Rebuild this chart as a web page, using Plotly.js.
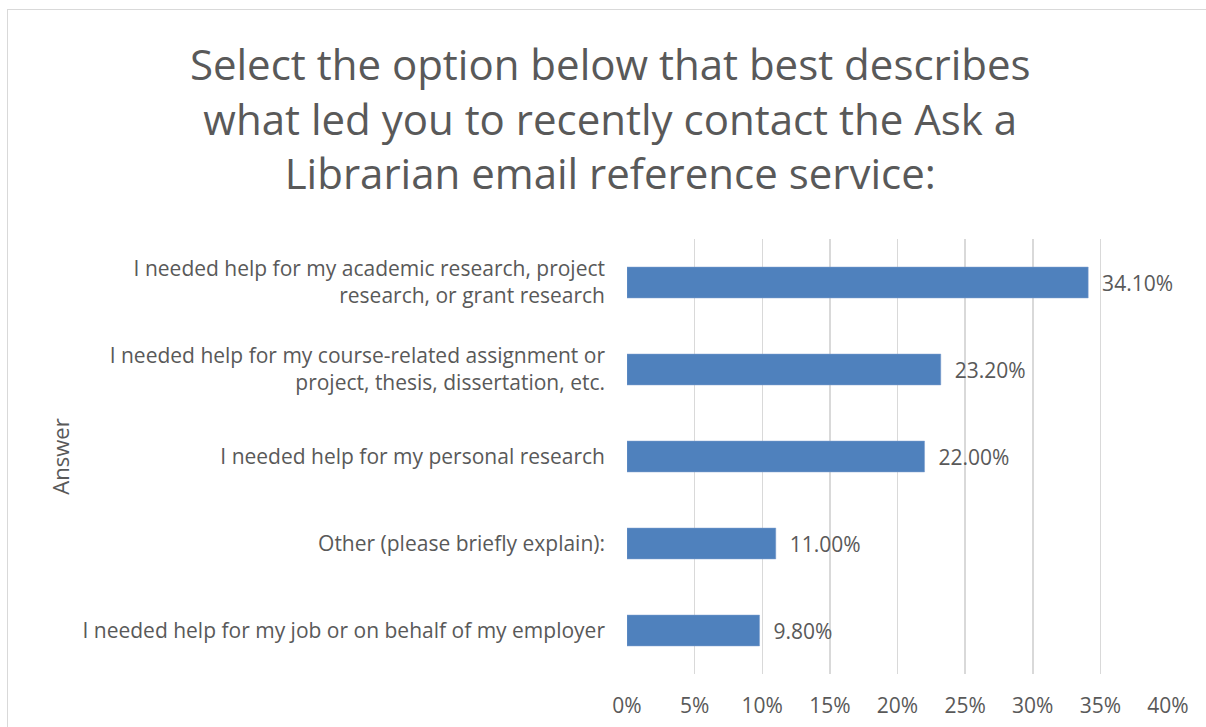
<!DOCTYPE html>
<html><head><meta charset="utf-8">
<script src="https://cdn.plot.ly/plotly-3.0.1.min.js"></script>
<style>
html,body{margin:0;padding:0;background:#fff;}
#wrap{position:relative;width:1206px;height:727px;overflow:hidden;}
#frame{position:absolute;left:7px;top:9px;width:1300px;height:800px;border:1.5px solid #d9d9d9;box-sizing:border-box;pointer-events:none;}
#chart{position:absolute;left:0;top:0;width:1206px;height:727px;}
</style></head>
<body><div id="wrap"><div id="chart"></div><div id="frame"></div></div>
<script>
const categories = [
  "I needed help for my academic research, project<br>research, or grant research",
  "I needed help for my course-related assignment or<br>project, thesis, dissertation, etc.",
  "I needed help for my personal research",
  "Other (please briefly explain):",
  "I needed help for my job or on behalf of my employer"
];
const values = [0.341, 0.232, 0.22, 0.11, 0.098];
const tickVals = [0, 0.05, 0.10, 0.15, 0.20, 0.25, 0.30, 0.35, 0.40];
const tickText = ["0%", "5%", "10%", "15%", "20%", "25%", "30%", "35%", "40%"];
const titleText = "Select the option below that best describes<br>what led you to recently contact the Ask a<br>Librarian email reference service:";

const FONT = "Open Sans, Liberation Sans, sans-serif";
const GREY = "#595959";

Plotly.newPlot("chart", [{
  type: "bar",
  orientation: "h",
  y: categories,
  x: values,
  marker: {color: "#4f81bd", line: {color: "#7f9fcf", width: 0.5}},
  texttemplate: "\u00a0\u00a0%{x:.2%}",
  textposition: "outside",
  textfont: {family: FONT, size: 21, color: GREY},
  cliponaxis: false,
  hoverinfo: "none"
}], {
  width: 1206, height: 727,
  paper_bgcolor: "rgba(0,0,0,0)",
  plot_bgcolor: "#fff",
  margin: {l: 627, r: 38, t: 239, b: 53},
  bargap: 0.645,
  showlegend: false,
  font: {family: FONT, color: GREY},
  title: {
    text: titleText,
    font: {family: FONT, size: 42, color: GREY},
    x: 0.506, xanchor: "center", xref: "container",
    y: 0.890, yanchor: "middle", yref: "container"
  },
  xaxis: {
    range: [0, 0.4],
    tickvals: tickVals, ticktext: tickText,
    showgrid: true, gridcolor: "#d9d9d9", gridwidth: 1.5,
    zeroline: false, showline: false, ticks: "",
    tickfont: {family: FONT, size: 21, color: GREY},
    ticklabelstandoff: 17
  },
  yaxis: {
    autorange: "reversed",
    showgrid: false, zeroline: false, showline: false, ticks: "",
    tickfont: {family: FONT, size: 21, color: GREY},
    ticklabelstandoff: 21,
    title: {text: "Answer", font: {family: FONT, size: 22, color: GREY}, standoff: 6}
  }
}, {displayModeBar: false, staticPlot: true});
</script></body></html>
